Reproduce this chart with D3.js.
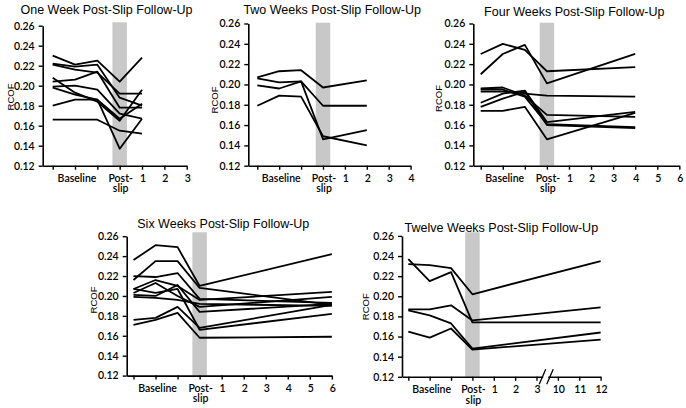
<!DOCTYPE html>
<html><head><meta charset="utf-8">
<script src="https://cdn.jsdelivr.net/npm/d3@7"></script>
<style>body{margin:0;background:#fff}svg{display:block}</style>
</head><body>
<svg id="chart" width="686" height="408"></svg>
<script>
// ---------- data ----------
const yTicks = [0.12, 0.14, 0.16, 0.18, 0.20, 0.22, 0.24, 0.26];

const titles = [
  "One Week Post-Slip Follow-Up",
  "Two Weeks Post-Slip Follow-Up",
  "Four Weeks Post-Slip Follow-Up",
  "Six Weeks Post-Slip Follow-Up",
  "Twelve Weeks Post-Slip Follow-Up"
];

const ticks1 = ["", "Baseline", "", "Post-slip", "1", "2", "3"];
const ticks2 = ["", "Baseline", "", "Post-slip", "1", "2", "3", "4"];
const ticks4 = ["", "Baseline", "", "Post-slip", "1", "2", "3", "4", "5", "6"];
const ticks6 = ["", "Baseline", "", "Post-slip", "1", "2", "3", "4", "5", "6"];
const ticks12 = ["", "Baseline", "", "Post-slip", "1", "2", "3", "10", "11", "12"];

// x positions (tick index) of the measured points
const pts1 = [0, 1, 2, 3, 4];
const pts2 = [0, 1, 2, 3, 5];
const pts4 = [0, 1, 2, 3, 7];
const pts6 = [0, 1, 2, 3, 9];
const pts12 = [0, 1, 2, 3, 9];

const week1 = [
  [0.230, 0.221, 0.225, 0.204, 0.228],
  [0.222, 0.219, 0.221, 0.188, 0.180],
  [0.221, 0.216, 0.213, 0.192, 0.192],
  [0.208, 0.193, 0.184, 0.165, 0.196],
  [0.204, 0.206, 0.214, 0.178, 0.178],
  [0.199, 0.200, 0.196, 0.172, 0.167],
  [0.198, 0.191, 0.186, 0.137, 0.167],
  [0.180, 0.186, 0.186, 0.167, 0.182],
  [0.166, 0.166, 0.166, 0.155, 0.152]
];
const week2 = [
  [0.207, 0.213, 0.214, 0.197, 0.204],
  [0.206, 0.202, 0.203, 0.179, 0.179],
  [0.199, 0.196, 0.203, 0.146, 0.155],
  [0.179, 0.189, 0.188, 0.149, 0.140]
];
const week4 = [
  [0.230, 0.240, 0.234, 0.213, 0.217],
  [0.210, 0.230, 0.239, 0.201, 0.230],
  [0.196, 0.197, 0.189, 0.170, 0.168],
  [0.193, 0.193, 0.191, 0.189, 0.188],
  [0.195, 0.195, 0.188, 0.161, 0.158],
  [0.182, 0.191, 0.194, 0.163, 0.173],
  [0.178, 0.186, 0.193, 0.160, 0.157],
  [0.174, 0.174, 0.178, 0.146, 0.172]
];
const week6 = [
  [0.236, 0.251, 0.249, 0.210, 0.242],
  [0.216, 0.235, 0.235, 0.208, 0.191],
  [0.220, 0.219, 0.223, 0.197, 0.193],
  [0.207, 0.216, 0.210, 0.196, 0.204],
  [0.203, 0.213, 0.200, 0.189, 0.199],
  [0.201, 0.200, 0.211, 0.184, 0.192],
  [0.199, 0.198, 0.196, 0.192, 0.190],
  [0.207, 0.203, 0.207, 0.166, 0.182],
  [0.176, 0.178, 0.189, 0.168, 0.191],
  [0.171, 0.176, 0.183, 0.158, 0.159]
];
const week12 = [
  [0.232, 0.231, 0.228, 0.202, 0.235],
  [0.237, 0.215, 0.224, 0.174, 0.174],
  [0.187, 0.187, 0.191, 0.176, 0.189],
  [0.186, 0.181, 0.173, 0.148, 0.164],
  [0.165, 0.159, 0.168, 0.147, 0.157]
];

// ---------- layout ----------
const panels = [
  {title: titles[0], ticks: ticks1, pts: pts1, series: week1,
   axisX: 42.7, tick0: 52.7, step: 22.33, yTop: 25.7, yBot: 165.7, bandTop: 22.3,
   tx: 106.5, ty: 13.8, rx: 14, ry: 97},
  {title: titles[1], ticks: ticks2, pts: pts2, series: week2,
   axisX: 248.3, tick0: 257.3, step: 21.9, yTop: 23.5, yBot: 165.7, bandTop: 22.7,
   tx: 332.2, ty: 13.8, rx: 218.3, ry: 100},
  {title: titles[2], ticks: ticks4, pts: pts4, series: week4,
   axisX: 473.3, tick0: 480.7, step: 22.07, yTop: 23.5, yBot: 165.7, bandTop: 22.7,
   tx: 574.3, ty: 15.8, rx: 442.3, ry: 98.5},
  {title: titles[3], ticks: ticks6, pts: pts6, series: week6,
   axisX: 126.7, tick0: 133.5, step: 22.04, yTop: 236.2, yBot: 375.6, bandTop: 232.3,
   tx: 223.3, ty: 227.5, rx: 96.7, ry: 300},
  {title: titles[4], ticks: ticks12, pts: pts12, series: week12,
   axisX: 402, tick0: 408.3, step: 21.37, yTop: 235.9, yBot: 376.8, bandTop: 232.3,
   tx: 501.3, ty: 231.5, rx: 369, ry: 306.7, brk: true}
];

const svg = d3.select("#chart");
const tickFont = "Lato, 'Open Sans', sans-serif";

panels.forEach(p => {
  const g = svg.append("g");
  const n = p.ticks.length;
  const lastX = p.tick0 + p.step * (n - 1);
  const xs = d3.scaleLinear()
    .domain([(p.axisX - p.tick0) / p.step, n - 1])
    .range([p.axisX, lastX]);
  const ys = d3.scaleLinear().domain([0.12, 0.26]).range([p.yBot, p.yTop]);

  // post-slip band
  const bw = 14.5;
  g.append("rect")
    .attr("x", xs(3) - bw / 2).attr("y", p.bandTop)
    .attr("width", bw).attr("height", p.yBot - p.bandTop)
    .attr("fill", "#c8c8c8");

  // lines
  const line = d3.line().x((d, i) => xs(p.pts[i])).y(d => ys(d));
  g.selectAll("path.series").data(p.series).enter().append("path")
    .attr("class", "series")
    .attr("d", line)
    .attr("fill", "none").attr("stroke", "#000")
    .attr("stroke-width", 1.8).attr("stroke-linejoin", "round");

  // y axis
  const ya = g.append("g").attr("transform", `translate(${p.axisX},0)`)
    .call(d3.axisLeft(ys).tickValues(yTicks).tickFormat(d3.format(".2f"))
      .tickSize(4).tickSizeOuter(0).tickPadding(4));
  ya.select(".domain").attr("stroke-width", 1.6);
  ya.selectAll(".tick line").attr("stroke-width", 1.4);
  ya.selectAll("text").attr("font-family", tickFont).attr("font-size", 10.5)
    .attr("font-weight", 600).attr("fill", "#000");

  // x axis
  const xa = g.append("g").attr("transform", `translate(0,${p.yBot})`)
    .call(d3.axisBottom(xs).tickValues(d3.range(n)).tickFormat("")
      .tickSize(4).tickSizeOuter(0));
  xa.select(".domain").attr("stroke-width", 1.6);
  xa.selectAll(".tick line").attr("stroke-width", 1.4);

  // x tick labels (Post-slip split over two lines)
  p.ticks.forEach((t, i) => {
    if (!t) return;
    const parts = t === "Post-slip" ? ["Post-", "slip"] : [t];
    parts.forEach((s, k) => {
      g.append("text")
        .attr("x", xs(i) + (t === "Baseline" ? 2 : 1))
        .attr("y", p.yBot + 16.5 + k * 10.2)
        .attr("text-anchor", "middle")
        .attr("font-family", tickFont).attr("font-size", 10.5)
        .attr("font-weight", 600).attr("fill", "#000")
        .text(s);
    });
  });

  // axis break for twelve weeks
  if (p.brk) {
    const mid = (xs(6) + xs(7)) / 2;
    g.append("rect").attr("x", mid - 4).attr("y", p.yBot - 2)
      .attr("width", 5).attr("height", 4).attr("fill", "#fff");
    [-5, 2.5].forEach(o => {
      g.append("line")
        .attr("x1", mid + o - 3).attr("y1", p.yBot + 7.5)
        .attr("x2", mid + o + 3.5).attr("y2", p.yBot - 7.5)
        .attr("stroke", "#000").attr("stroke-width", 1.3);
    });
  }

  // title
  g.append("text").attr("x", p.tx).attr("y", p.ty)
    .attr("text-anchor", "middle")
    .attr("font-family", "'Liberation Sans', Arial, sans-serif")
    .attr("font-size", 12.5).attr("fill", "#000")
    .text(p.title);

  // y label
  g.append("text")
    .attr("transform", `translate(${p.rx},${p.ry}) rotate(-90)`)
    .attr("text-anchor", "middle")
    .attr("font-family", "'Liberation Sans', Arial, sans-serif")
    .attr("font-size", 9.5).attr("fill", "#000")
    .text("RCOF");
});
</script>
</body></html>
